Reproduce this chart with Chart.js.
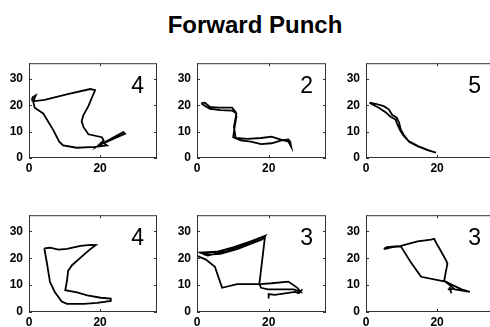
<!DOCTYPE html>
<html>
<head>
<meta charset="utf-8">
<title>Forward Punch</title>
<script src="https://cdn.jsdelivr.net/npm/chart.js@4/dist/chart.umd.min.js"></script>
<style>
  html, body { margin: 0; padding: 0; background: #fff; }
  body { width: 490px; height: 327px; position: relative; overflow: hidden; }
  #title {
    position: absolute; left: 155px; top: 13px; width: 200px;
    text-align: center; white-space: nowrap;
    font: bold 24px "Liberation Sans", Arial, sans-serif; line-height: 24px; color: #000;
  }
  canvas { position: absolute; }
</style>
</head>
<body>
<div id="title">Forward Punch</div>
<canvas id="c1"></canvas>
<canvas id="c2"></canvas>
<canvas id="c3"></canvas>
<canvas id="c4"></canvas>
<canvas id="c5"></canvas>
<canvas id="c6"></canvas>
<script>
// axis ticks shared by all panels
const xTicks = [0, 20];
const yTicks = [0, 10, 20, 30];
const axisMax = 36;

// panel labels (top-right numbers)
const panelLabels = ["4", "2", "5", "4", "3", "3"];

// panel 1
const p1X = [0.9, 1.9, 1.3, 0.8, 1.5, 4.4, 10.6, 17.2, 18.6, 18.1, 16.7, 15.3, 14.8, 15.3, 16.7, 20.5, 21.0, 19.2, 26.5, 27.0, 21.0, 21.9, 18.6, 13.4, 9.6, 8.5, 6.8, 4.0, 1.6, 1.1, 0.9];
const p1Y = [23.0, 23.8, 21.8, 22.8, 21.6, 22.1, 24.2, 26.2, 25.8, 24.2, 19.7, 16.3, 14.0, 11.8, 9.0, 7.9, 6.7, 4.4, 9.8, 9.2, 5.6, 4.8, 4.2, 3.9, 4.8, 6.2, 10.7, 16.9, 19.1, 21.9, 23.0];

// panel 2
const p2X = [1.2, 2.2, 3.6, 6.0, 9.8, 10.8, 11.0, 10.5, 10.1, 12.2, 15.0, 17.9, 20.8, 23.6, 25.5, 26.0, 26.3, 25.5, 22.7, 20.8, 17.9, 14.1, 10.8, 10.3, 11.0, 9.8, 6.5, 3.6, 1.7, 1.2];
const p2Y = [20.8, 21.0, 19.4, 19.1, 19.1, 17.4, 15.7, 11.8, 7.9, 6.7, 6.2, 5.3, 5.6, 6.7, 7.0, 6.2, 4.2, 6.2, 7.3, 8.1, 7.6, 7.3, 7.6, 11.8, 16.9, 18.0, 18.2, 18.7, 20.2, 20.8];

// panel 3
const p3X = [1.0, 2.7, 5.0, 6.4, 7.4, 8.6, 9.3, 9.8, 10.8, 12.1, 14.5, 17.3, 19.7, 17.3, 14.5, 12.1, 10.5, 9.6, 8.8, 8.3, 6.9, 5.5, 3.6, 1.2, 1.0];
const p3Y = [21.0, 20.6, 19.7, 18.5, 16.3, 15.4, 13.5, 10.7, 8.4, 6.2, 4.5, 3.0, 2.0, 3.1, 4.6, 6.3, 8.6, 10.5, 12.9, 14.6, 15.7, 17.4, 19.1, 20.8, 21.0];

// panel 4
const p4X = [4.3, 5.9, 8.3, 10.7, 14.5, 17.3, 18.8, 16.9, 14.5, 12.1, 11.0, 10.7, 10.2, 13.5, 16.4, 20.2, 23.0, 23.0, 19.2, 15.4, 10.7, 9.2, 7.3, 5.9, 5.0, 4.3];
const p4Y = [23.7, 23.9, 23.2, 23.5, 24.6, 25.0, 24.9, 23.0, 20.2, 17.4, 15.3, 11.8, 8.1, 7.3, 6.2, 5.3, 5.0, 4.1, 3.4, 3.0, 3.0, 3.9, 7.3, 11.2, 18.5, 23.7];

// panel 5 (several strokes)
const p5aX = [0.0, 2.5, 5.0, 7.0, 11.2, 17.4, 19.0];
const p5aY = [20.9, 19.5, 16.8, 9.0, 10.4, 10.4, 28.3];
const p5bX = [19.0, 15.0, 10.3, 5.5, 1.2, 2.2, 6.5, 11.2, 18.3, 19.0, 14.0, 8.0, 3.0, 1.5, 4.0];
const p5bY = [28.3, 26.3, 24.1, 22.4, 22.1, 21.3, 21.6, 23.4, 27.1, 28.3, 25.5, 22.5, 21.0, 21.8, 21.2];
const p5cX = [17.4, 17.9, 19.8, 23.6, 27.0, 28.9, 28.0, 25.5, 20.8, 17.7];
const p5cY = [10.4, 9.0, 8.4, 8.4, 8.4, 7.5, 9.0, 11.3, 10.7, 10.4];
const p5dX = [20.0, 20.0, 21.7, 27.4, 28.4, 29.4];
const p5dY = [5.0, 6.7, 6.4, 7.5, 7.0, 8.4];

// panel 6 (loop plus a small cross)
const p6aX = [5.0, 5.9, 9.8, 14.5, 18.3, 19.2, 19.7, 20.7, 22.6, 22.9, 22.4, 22.0, 24.2, 26.9, 29.2, 25.0, 22.3, 15.5, 12.6, 9.8, 7.4, 5.5, 5.0];
const p6aY = [23.5, 24.1, 24.6, 26.3, 26.9, 27.2, 25.8, 23.5, 19.0, 17.9, 14.6, 11.6, 10.1, 8.4, 7.5, 8.4, 11.3, 13.1, 18.5, 24.4, 24.1, 23.5, 23.5];
const p6bX = [23.5, 24.0];
const p6bY = [9.3, 7.0];
const p6cX = [23.0, 24.8];
const p6cY = [8.4, 8.6];

(() => {
  const FONT = '"Liberation Sans", Arial, sans-serif';
  const Y_AXIS_W = 30;
  const X_AXIS_H = 20;

  // chart area of each panel in page pixels
  const panels = [
    { id: "c1", left: 29, top: 52, width: 128, height: 106, strokes: [[p1X, p1Y]] },
    { id: "c2", left: 197, top: 52, width: 129, height: 106, strokes: [[p2X, p2Y]] },
    { id: "c3", left: 366, top: 52, width: 128, height: 106, strokes: [[p3X, p3Y]] },
    { id: "c4", left: 29, top: 204, width: 128, height: 108, strokes: [[p4X, p4Y]] },
    { id: "c5", left: 197, top: 204, width: 129, height: 108, strokes: [[p5aX, p5aY], [p5bX, p5bY], [p5cX, p5cY], [p5dX, p5dY]] },
    { id: "c6", left: 366, top: 204, width: 128, height: 108, strokes: [[p6aX, p6aY], [p6bX, p6bY], [p6cX, p6cY]] },
  ];

  function toPoints(xs, ys) {
    return xs.map((x, i) => ({ x, y: ys[i] }));
  }

  // box, inward tick marks and the panel number
  const framePlugin = {
    id: "frame",
    afterDraw(chart, args, opts) {
      const { ctx, chartArea: a, scales } = chart;
      ctx.save();
      ctx.strokeStyle = "#333";
      ctx.lineWidth = 1;
      ctx.strokeRect(a.left + 0.5, a.top + 0.5, a.right - a.left - 1, a.bottom - a.top - 1);
      ctx.beginPath();
      yTicks.forEach((v) => {
        const py = Math.round(scales.y.getPixelForValue(v)) + 0.5;
        ctx.moveTo(a.left, py); ctx.lineTo(a.left + 3, py);
        ctx.moveTo(a.right, py); ctx.lineTo(a.right - 3, py);
      });
      xTicks.forEach((v) => {
        const px = Math.round(scales.x.getPixelForValue(v)) + 0.5;
        ctx.moveTo(px, a.bottom); ctx.lineTo(px, a.bottom - 3);
        ctx.moveTo(px, a.top); ctx.lineTo(px, a.top + 3);
      });
      ctx.stroke();
      ctx.fillStyle = "#000";
      ctx.font = `23px ${FONT}`;
      ctx.textAlign = "right";
      ctx.textBaseline = "alphabetic";
      ctx.fillText(opts.label, a.right - 13, a.top + 30);
      ctx.restore();
    },
  };

  function axis(ticks, isX) {
    return {
      type: "linear",
      min: 0,
      max: axisMax,
      afterBuildTicks: (scale) => { scale.ticks = ticks.map((value) => ({ value })); },
      afterFit: (scale) => {
        if (isX) scale.height = X_AXIS_H;
        else scale.width = Y_AXIS_W;
      },
      grid: { display: false, drawTicks: false },
      border: { display: false },
      ticks: {
        color: "#000",
        padding: isX ? 3 : 6,
        maxRotation: 0,
        autoSkip: false,
        font: { family: FONT, size: 12, weight: "bold" },
      },
    };
  }

  function createPanel(panel, idx) {
    const canvas = document.getElementById(panel.id);
    const w = Y_AXIS_W + panel.width + 4;
    const h = 2 + panel.height + X_AXIS_H;
    canvas.width = w;
    canvas.height = h;
    canvas.style.left = `${panel.left - Y_AXIS_W}px`;
    canvas.style.top = `${panel.top - 2}px`;
    canvas.style.width = `${w}px`;
    canvas.style.height = `${h}px`;

    new Chart(canvas, {
      type: "scatter",
      data: {
        datasets: panel.strokes.map(([xs, ys]) => ({
          data: toPoints(xs, ys),
          showLine: true,
          borderColor: "#000",
          borderWidth: 1.8,
          pointRadius: 0,
          tension: 0,
        })),
      },
      options: {
        responsive: false,
        animation: false,
        layout: { padding: { left: 0, top: 2, right: 4, bottom: 0 } },
        plugins: {
          legend: { display: false },
          tooltip: { enabled: false },
          frame: { label: panelLabels[idx] },
        },
        scales: { x: axis(xTicks, true), y: axis(yTicks, false) },
      },
      plugins: [framePlugin],
    });
  }

  panels.forEach(createPanel);
})();
</script>
</body>
</html>
